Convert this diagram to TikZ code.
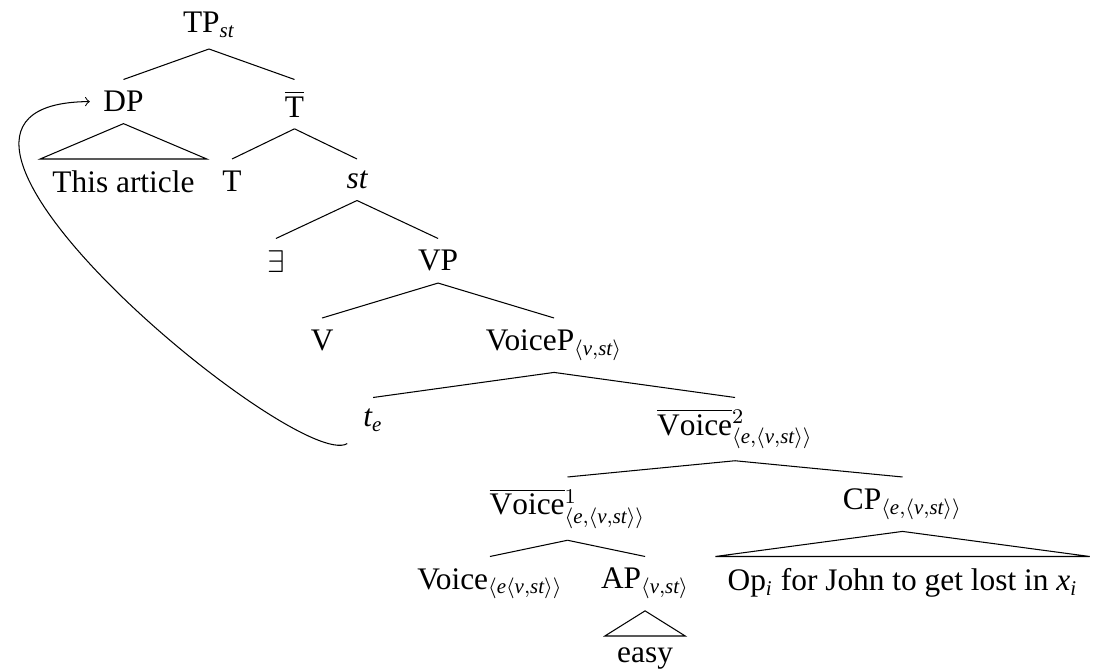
\documentclass[tikz,border=0pt]{standalone}
\usepackage{fontspec}
\setmainfont{Liberation Serif}

\begin{document}
\begin{tikzpicture}[x=0.3824pt, y=0.3824pt,
      level distance=30.4pt,
      growth parent anchor=north,
      every node/.style = {anchor=north, inner xsep=2pt, inner ysep=4.3pt,
        font=\fontsize{12pt}{14pt}\selectfont},
      edge from parent path={(\tikzparentnode.south) -- (\tikzchildnode.north)},
      roof/.style = {edge from parent/.style={draw=none}},
      roofnode/.style = {inner xsep=4.5pt},
      level 1/.style = {sibling distance=65.4pt},
      level 2/.style = {sibling distance=47.8pt},
      level 3/.style = {sibling distance=62pt},
      level 4/.style = {sibling distance=88.7pt},
      level 5/.style = {sibling distance=138.4pt},
      level 6/.style = {sibling distance=128.1pt},
      level 7/.style = {sibling distance=59.3pt}]
    \useasboundingbox (0,0) rectangle (1100,-669);
    \node (tp) at (209,0) {TP$_{\mathit{st}}$}
    child { node (dp) {DP}
      child[roof] { node[roofnode] (art) {This article}}}
    child { node (tbar) {$\overline{\mathrm{T}}$}
      child { node (t) {T}}
      child { node (st) {$\mathit{st}$}
        child { node (ex) {$\exists$}}
        child { node (vp) {VP}
          child { node (v) {V}}
          child { node (voicep) {VoiceP$_{\langle \mathit{v,st}\rangle}$}
            child { node (te) {$\mathit{t}_{\mathit{e}}$}}
            child { node (voicetwo) {$\overline{\mathrm{Voice}}{}^{2}_{\langle \mathit{e},\langle \mathit{v,st}\rangle\rangle}$}
              child { node (voiceone) {$\overline{\mathrm{Voice}}{}^{1}_{\langle \mathit{e},\langle \mathit{v,st}\rangle\rangle}$}
                child { node (voice) {Voice$_{\langle \mathit{e}\langle \mathit{v,st}\rangle\rangle}$}}
                child { node (ap) {AP$_{\langle \mathit{v,st}\rangle}$}
                  child[roof] { node[roofnode] (easy) {easy}}}}
              child { node (cp) {CP$_{\langle \mathit{e},\langle \mathit{v,st}\rangle\rangle}$}
                child[roof] { node[roofnode] (op) {Op$_{\mathit{i}}$ for John to get lost in $\mathit{x}_{\mathit{i}}$}}}}}}}};

    % roofs over the unanalysed parts
    \foreach \mom/\kid in {dp/art, ap/easy, cp/op}
      \draw (\mom.south) -- (\kid.north west) -- (\kid.north east) -- cycle;

    % movement of the subject
    \draw[->] ([xshift=-4pt]te.south west) .. controls +(-50,-30) and +(-240,-2) .. ([xshift=-3pt]dp.west);
  \end{tikzpicture}
\end{document}
